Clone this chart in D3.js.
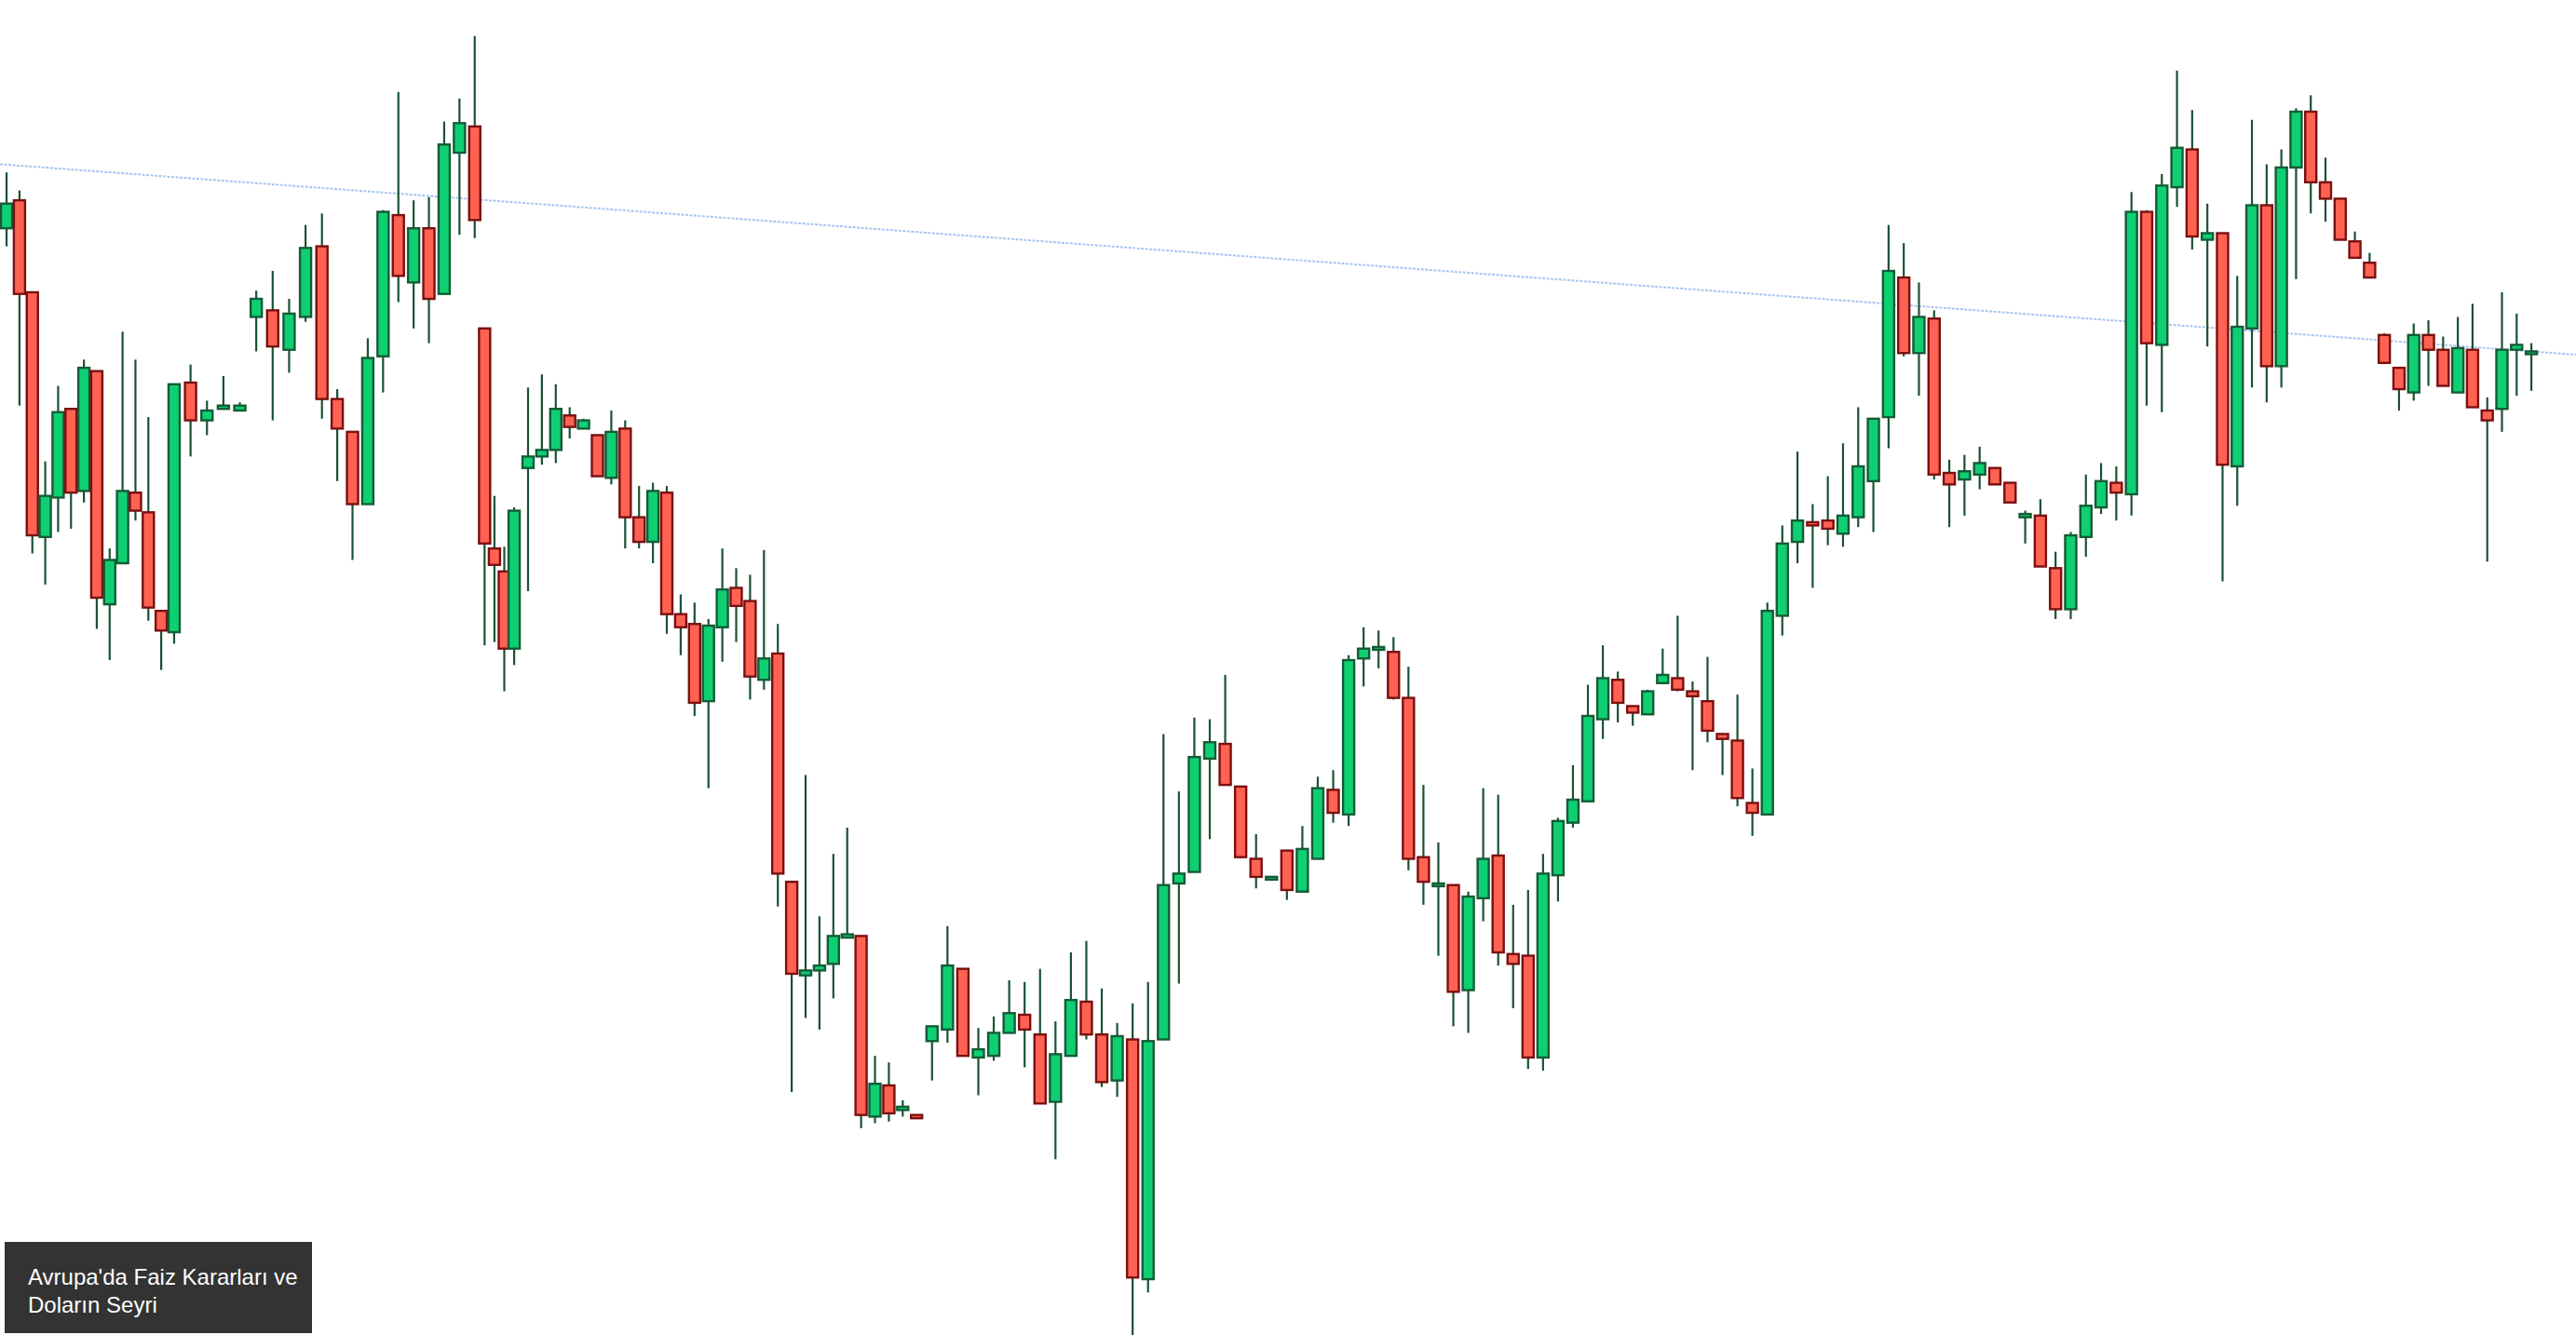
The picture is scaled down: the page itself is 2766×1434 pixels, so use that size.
<!DOCTYPE html>
<html><head><meta charset="utf-8">
<script src="https://cdn.jsdelivr.net/npm/d3@7"></script>
<style>html,body{margin:0;padding:0;background:#fff;overflow:hidden}</style>
</head><body>
<svg id="c" width="2766" height="1434"></svg>
<script>
// values in chart units (screen-level units, smaller = higher price)
const open  = [139,122,178,327,303,249,299,226,368,343,300,312,372,385,233,256,249,250,193,189,213,193,150,243,263,307,217,131,172,139,179,93,77,200,334,348,395,285,278,274,253,261,265,291,261,315,330,300,374,380,427,382,358,366,414,398,537,594,591,587,571,570,680,661,676,679,634,627,590,644,643,629,618,630,671,643,610,630,658,633,779,633,538,531,462,453,479,523,535,518,543,523,481,496,401,395,397,425,522,539,539,603,547,521,581,582,644,533,501,488,438,414,430,435,416,413,421,427,447,451,489,496,375,330,318,317,325,315,293,254,169,215,194,288,292,289,285,294,315,314,346,371,327,309,294,301,129,210,114,91,146,142,284,200,125,223,102,68,111,121,147,160,204,224,239,204,213,239,213,250,249,213,215];
const close = [124,179,326,302,251,300,224,364,341,299,311,370,384,234,256,250,247,247,182,211,191,151,243,261,307,218,129,168,139,182,88,75,134,331,344,395,311,278,274,249,260,256,290,263,315,330,299,374,382,428,381,359,369,412,401,532,593,591,588,570,569,679,660,678,674,681,625,588,643,639,629,617,627,672,642,609,630,659,631,778,634,539,532,461,452,478,522,534,534,542,517,480,495,402,395,394,425,523,537,538,604,546,523,580,587,644,532,500,487,436,413,428,434,421,411,420,424,445,450,486,495,372,331,317,320,322,314,284,255,165,215,193,289,295,287,282,295,306,313,345,371,326,308,293,300,129,209,113,90,144,142,283,199,125,223,102,68,111,121,146,157,169,221,237,204,213,235,212,248,256,213,210,214];
const high  = [105,116,178,281,235,249,219,226,334,202,219,254,372,234,222,244,229,245,177,165,182,137,130,237,263,206,128,56,122,120,74,60,22,200,302,333,309,236,228,234,248,255,265,250,256,296,294,296,362,367,377,334,346,350,335,380,537,472,558,520,504,570,643,647,670,679,625,564,590,626,619,597,598,590,622,580,573,602,623,611,598,447,482,437,438,411,479,508,534,518,503,473,469,399,382,384,388,406,478,513,539,543,480,484,551,542,520,498,466,417,393,409,430,420,395,375,415,400,447,423,468,367,320,275,307,290,270,248,255,137,148,172,189,280,277,272,285,294,311,304,336,324,289,282,284,117,128,106,43,67,124,142,168,73,100,91,66,58,96,121,141,154,203,224,197,195,205,193,185,242,178,191,209];
const low   = [150,247,337,356,324,322,306,383,402,343,317,378,408,392,278,265,249,250,214,256,227,196,255,293,341,307,239,184,200,209,179,143,145,393,391,421,405,360,283,282,267,261,290,295,334,334,343,386,399,436,480,403,391,426,420,552,665,620,627,608,571,687,684,683,680,681,658,635,643,667,646,629,650,672,706,643,633,662,668,813,787,633,599,531,511,478,522,541,535,548,543,523,501,503,418,407,426,530,551,582,625,629,561,588,614,651,652,549,504,488,450,440,442,435,416,421,469,452,472,491,509,496,387,343,358,332,333,321,324,273,217,241,292,321,314,298,295,306,331,345,377,377,339,313,317,314,247,251,126,152,211,354,308,236,245,236,170,130,135,146,157,169,221,250,244,235,235,239,248,342,263,241,238];
const trendLevels = [100, 216];   // trendline level at left and right edge
const titleLines = ["Avrupa'da Faiz Kararları ve", "Doların Seyri"];

const W = 2766, H = 1434, k = H / 813;
const svg = d3.select("#c");
// piecewise time axis (bar spacing varies slightly across the chart)
const x = d3.scaleLinear().domain([0, 13, 22, 32, 36, 65, 93, 122, 151, 172])
  .range([4, 106, 196, 289, 313, 558, 821, 1085, 1353, 1541].map(v => v * k));
const y = d3.scaleLinear().domain([0, 813]).range([0, H]);
const data = open.map((o, i) => ({i, o, c: close[i], h: high[i], l: low[i], up: close[i] <= open[i]}));

svg.append("line")
  .attr("x1", 0).attr("x2", W)
  .attr("y1", y(trendLevels[0])).attr("y2", y(trendLevels[1]))
  .attr("stroke", "#a9c4f2").attr("stroke-width", 2).attr("stroke-dasharray", "3,1.5");

const g = svg.append("g");
g.selectAll("line.w").data(data).join("line").attr("class", "w")
  .attr("x1", d => x(d.i)).attr("x2", d => x(d.i))
  .attr("y1", d => y(d.h)).attr("y2", d => y(d.l))
  .attr("stroke", "#1a5234").attr("stroke-width", 2.2);
const bw = 12;
g.selectAll("rect").data(data).join("rect")
  .attr("x", d => x(d.i) - bw / 2).attr("width", bw)
  .attr("y", d => y(Math.min(d.o, d.c)))
  .attr("height", d => Math.max(3, y(Math.abs(d.o - d.c))))
  .attr("fill", d => d.up ? "#0fcf73" : "#ff6253")
  .attr("stroke", d => d.up ? "#145c36" : "#7a1010").attr("stroke-width", 2.4);

const box = svg.append("g").attr("transform", "translate(5,1334)");
box.append("rect").attr("width", 330).attr("height", 98).attr("fill", "#333333");
box.selectAll("text").data(titleLines).join("text")
  .attr("x", 25).attr("y", (d, i) => 46 + i * 30)
  .attr("fill", "#ffffff").attr("font-family", "Liberation Sans, Arial, sans-serif")
  .attr("font-size", 24).text(d => d);
</script>
</body></html>
